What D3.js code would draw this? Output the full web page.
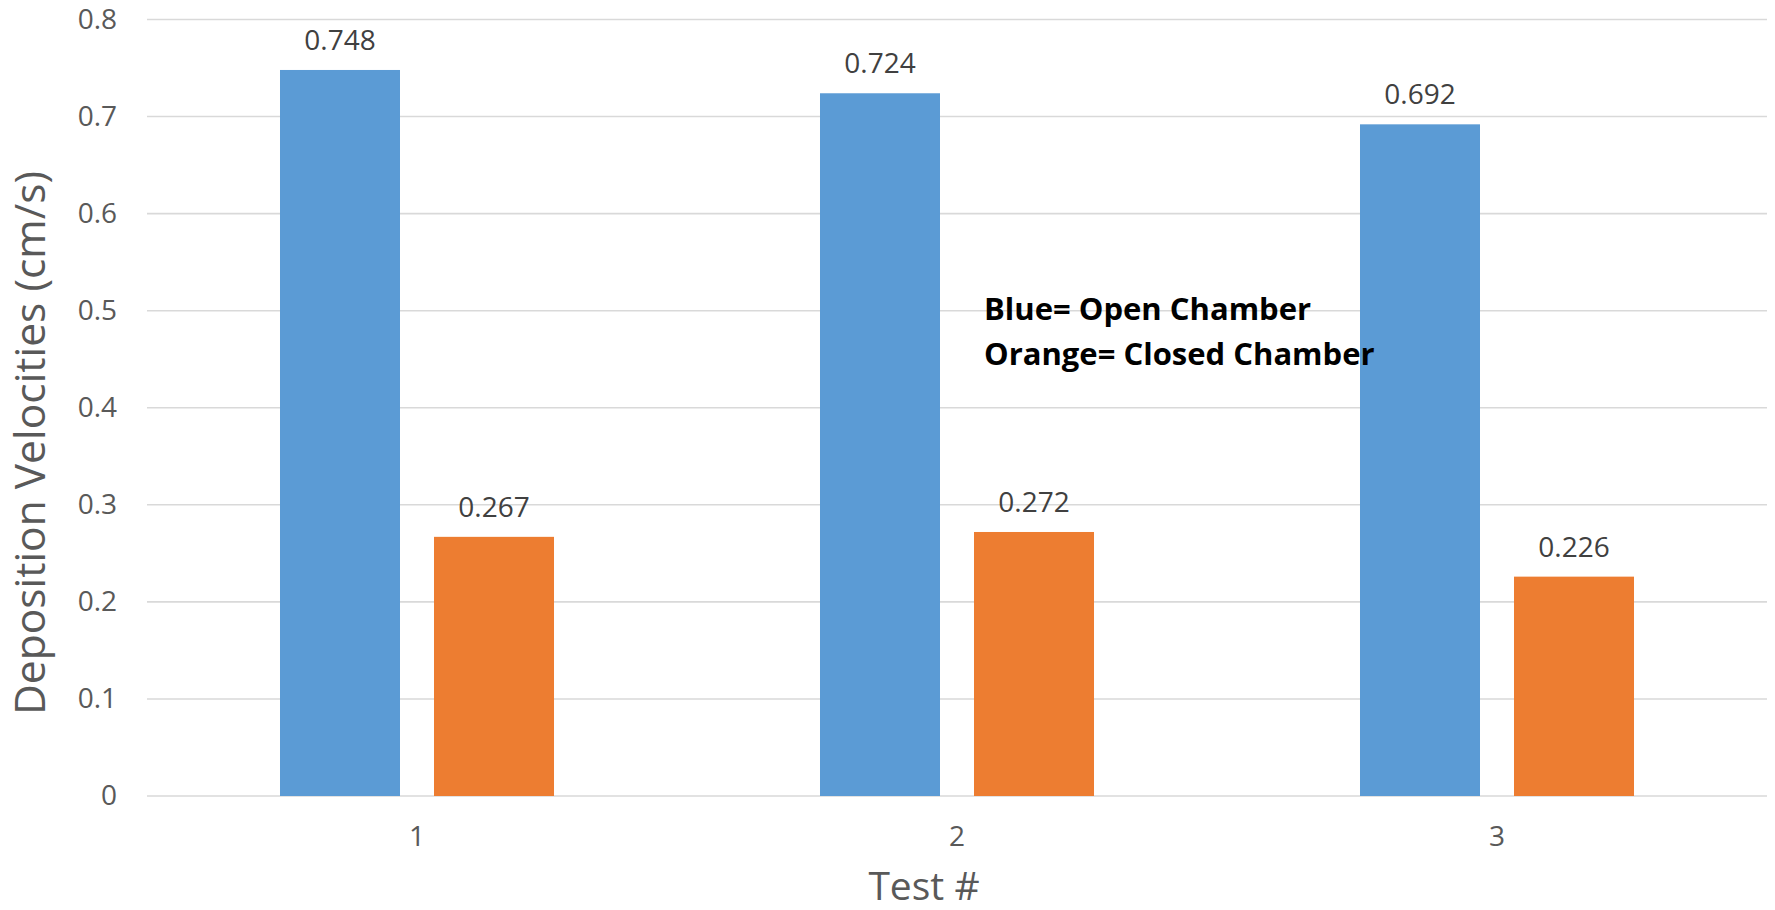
<!DOCTYPE html>
<html>
<head>
<meta charset="utf-8">
<script src="https://cdn.jsdelivr.net/npm/d3@7"></script>
<style>
  html, body { margin: 0; padding: 0; background: #ffffff; }
  svg { display: block; }
  text { font-family: "Open Sans", "Noto Sans", sans-serif; }
</style>
</head>
<body>
<svg id="chart" width="1775" height="910"></svg>
<script>
// Deposition velocity per test, open vs closed chamber
const tests = ["1", "2", "3"];
const seriesNames = ["Open Chamber", "Closed Chamber"];
const openChamber = [0.748, 0.724, 0.692];
const closedChamber = [0.267, 0.272, 0.226];
const seriesColors = ["#5B9BD5", "#ED7D31"];
const yTicks = [0, 0.1, 0.2, 0.3, 0.4, 0.5, 0.6, 0.7, 0.8];
const noteLines = ["Blue= Open Chamber", "Orange= Closed Chamber"];

const svg = d3.select("#chart");
const margin = { left: 147, right: 8, top: 19.5, bottom: 114 };
const W = 1775, H = 910;
const plotW = W - margin.left - margin.right;
const plotH = H - margin.top - margin.bottom;

const g = svg.append("g").attr("transform", `translate(${margin.left},${margin.top})`);

const y = d3.scaleLinear().domain([0, 0.8]).range([plotH, 0]);
const x0 = d3.scaleBand().domain(tests).range([0, plotW]).padding(0);
const x1 = d3.scaleBand().domain(seriesNames).range([0, x0.bandwidth()])
  .paddingInner(0.2208).paddingOuter(0.8636);

// horizontal gridlines
g.append("g").selectAll("line").data(yTicks).join("line")
  .attr("x1", 0).attr("x2", plotW)
  .attr("y1", d => y(d)).attr("y2", d => y(d))
  .attr("stroke", "#D9D9D9").attr("stroke-width", 1.6);

// y axis tick labels
const yAxis = d3.axisLeft(y).tickValues(yTicks).tickSize(0).tickPadding(30)
  .tickFormat(d => d === 0 ? "0" : d3.format(".1f")(d));
const ya = g.append("g").call(yAxis);
ya.select(".domain").remove();
ya.selectAll("text").attr("font-size", 28).attr("fill", "#595959")
  .attr("font-family", "'Open Sans', sans-serif");

// x axis tick labels
const xAxis = d3.axisBottom(x0).tickSize(0).tickPadding(30);
const xa = g.append("g").attr("transform", `translate(0,${plotH})`).call(xAxis);
xa.select(".domain").remove();
xa.selectAll("text").attr("font-size", 28).attr("fill", "#595959")
  .attr("font-family", "'Open Sans', sans-serif");

// bars
const rows = tests.map((t, i) => ({ test: t, values: [openChamber[i], closedChamber[i]] }));
const groups = g.append("g").selectAll("g").data(rows).join("g")
  .attr("transform", d => `translate(${x0(d.test)},0)`);

groups.selectAll("rect").data(d => d.values.map((v, k) => ({ name: seriesNames[k], v, k })))
  .join("rect")
  .attr("x", d => x1(d.name))
  .attr("width", x1.bandwidth())
  .attr("y", d => y(d.v))
  .attr("height", d => y(0) - y(d.v))
  .attr("fill", d => seriesColors[d.k]);

groups.selectAll("text.val").data(d => d.values.map((v, k) => ({ name: seriesNames[k], v, k })))
  .join("text").attr("class", "val")
  .attr("x", d => x1(d.name) + x1.bandwidth() / 2)
  .attr("y", d => y(d.v) - 20)
  .attr("text-anchor", "middle")
  .attr("font-size", 28).attr("fill", "#404040")
  .text(d => d3.format(".3f")(d.v));

// axis titles
svg.append("text")
  .attr("transform", "translate(45,443) rotate(-90)")
  .attr("text-anchor", "middle")
  .attr("font-size", 42.5).attr("fill", "#595959")
  .text("Deposition Velocities (cm/s)");

svg.append("text")
  .attr("x", 924).attr("y", 900)
  .attr("text-anchor", "middle")
  .attr("font-size", 39).attr("fill", "#595959")
  .text("Test #");

// colour note
const note = svg.append("text")
  .attr("x", 984).attr("y", 320)
  .attr("font-size", 31).attr("font-weight", "bold").attr("fill", "#000000");
note.selectAll("tspan").data(noteLines).join("tspan")
  .attr("x", 984).attr("dy", (d, i) => i === 0 ? 0 : 45)
  .text(d => d);
</script>
</body>
</html>
